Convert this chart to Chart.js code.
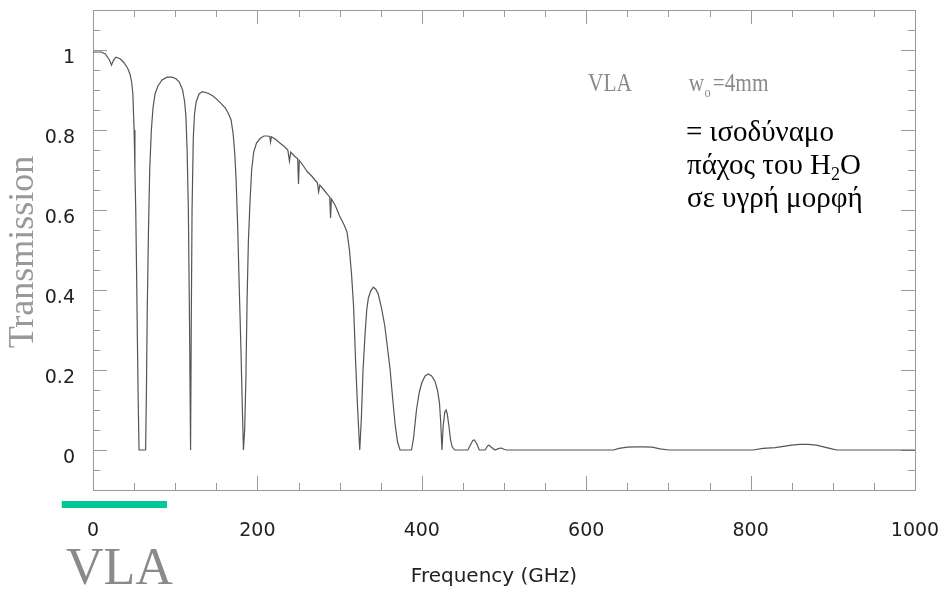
<!DOCTYPE html>
<html>
<head>
<meta charset="utf-8">
<script src="https://cdn.jsdelivr.net/npm/chart.js@4.4.1/dist/chart.umd.min.js"></script>
<style>
  html, body { margin: 0; padding: 0; background: #fff; }
  #wrap { width: 944px; height: 592px; }
</style>
</head>
<body>
<div id="wrap"><canvas id="transChart" width="944" height="592"></canvas></div>
<script>
// Atmospheric transmission at the VLA site, w0 = 4mm
const freqGHz = [
  0, 10, 15, 20, 22.5, 25, 28, 33, 37, 42, 45, 47, 48.5, 50, 51, 52, 53, 54, 55, 56,
  64, 65, 66, 67.5, 69, 71, 73, 75.5, 79, 84, 90, 96, 101, 105, 109, 111.5, 113, 114.5, 116, 117.5,
  118.7, 119.5, 120.5, 122, 123.5, 125.5, 129, 133, 140, 146, 151, 156, 161, 165, 168, 170.5, 172.5, 174, 176, 178,
  180, 181.5, 183, 184.5, 186, 187.5, 189, 191, 193, 195.5, 199, 204, 208, 212, 215, 216, 217, 222, 227, 233,
  237, 239, 240.5, 245, 249, 250, 251, 256, 261, 266, 270, 273, 274.5, 276, 281, 285, 288, 289, 290, 295,
  300, 305, 309, 312, 314.5, 317, 319.5, 322, 324.5, 326.5, 328.5, 331, 333, 335, 338, 341, 344, 347, 351, 355,
  358, 361.5, 364.5, 367.5, 370.5, 373.5, 387.5, 390, 393.5, 397, 400, 404, 408, 412, 416, 419, 421.5, 423, 424.5, 426,
  428, 429.5, 431, 433, 435, 437, 440, 456, 459, 462, 464, 467, 470, 477, 480, 482, 485, 489, 494, 497,
  500, 503, 633, 640, 650, 660, 670, 680, 690, 700, 803, 815, 830, 840, 850, 860, 870, 880, 890, 900,
  905, 1000
];
const transmission = [
  0.995, 0.995, 0.99, 0.975, 0.962, 0.975, 0.982, 0.978, 0.97, 0.955, 0.94, 0.92, 0.89, 0.80, 0.70, 0.60, 0.45, 0.28, 0.12, 0.0,
  0.0, 0.15, 0.35, 0.55, 0.70, 0.80, 0.855, 0.89, 0.91, 0.925, 0.932, 0.932, 0.928, 0.92, 0.90, 0.87, 0.835, 0.75, 0.60, 0.30,
  0.0, 0.30, 0.60, 0.78, 0.84, 0.87, 0.89, 0.896, 0.892, 0.885, 0.876, 0.866, 0.855, 0.84, 0.825, 0.79, 0.74, 0.68, 0.56, 0.40,
  0.25, 0.12, 0.0, 0.05, 0.18, 0.38, 0.52, 0.62, 0.70, 0.745, 0.768, 0.78, 0.785, 0.785, 0.784, 0.77, 0.783, 0.777, 0.768, 0.758,
  0.75, 0.722, 0.745, 0.735, 0.728, 0.665, 0.724, 0.71, 0.695, 0.685, 0.675, 0.668, 0.645, 0.662, 0.65, 0.64, 0.632, 0.58, 0.628, 0.61,
  0.585, 0.565, 0.545, 0.50, 0.44, 0.36, 0.22, 0.10, 0.0, 0.08, 0.20, 0.29, 0.35, 0.38, 0.398, 0.407, 0.402, 0.39, 0.355, 0.31,
  0.26, 0.20, 0.13, 0.065, 0.02, 0.0, 0.0, 0.03, 0.10, 0.145, 0.168, 0.185, 0.19, 0.185, 0.172, 0.15, 0.118, 0.07, 0.0, 0.06,
  0.095, 0.10, 0.09, 0.06, 0.025, 0.008, 0.0, 0.0, 0.012, 0.024, 0.025, 0.015, 0.0, 0.0, 0.01, 0.012, 0.006, 0.0, 0.004, 0.005,
  0.002, 0.0, 0.0, 0.004, 0.007, 0.008, 0.008, 0.007, 0.003, 0.0, 0.0, 0.004, 0.006, 0.009, 0.012, 0.014, 0.014, 0.012, 0.007, 0.002,
  0.0, 0.0
];

const xTicks = [0, 200, 400, 600, 800, 1000];
const yTicks = [0, 0.2, 0.4, 0.6, 0.8, 1];
const vlaBand = [-38, 90]; // green bar under the axis

const frameColor = '#9a9a9a';

// frame with inward ticks on all four sides
const framePlugin = {
  id: 'frame',
  beforeDatasetsDraw(chart) {
    const { ctx, chartArea: a, scales: { x, y } } = chart;
    ctx.save();
    ctx.strokeStyle = frameColor;
    ctx.lineWidth = 1;
    ctx.strokeRect(a.left + 0.5, a.top + 0.5, a.right - a.left, a.bottom - a.top);
    ctx.beginPath();
    for (let f = 0; f <= 1000; f += 50) {
      const px = Math.round(x.getPixelForValue(f)) + 0.5;
      const len = f % 200 === 0 ? 14 : 7;
      ctx.moveTo(px, a.bottom); ctx.lineTo(px, a.bottom - len);
      ctx.moveTo(px, a.top); ctx.lineTo(px, a.top + len);
    }
    for (let i = -2; i <= 22; i++) {
      const v = i * 0.05;
      const py = Math.round(y.getPixelForValue(v)) + 0.5;
      if (py < a.top || py > a.bottom) continue;
      const len = i % 4 === 0 ? 14 : 7;
      ctx.moveTo(a.left, py); ctx.lineTo(a.left + len, py);
      ctx.moveTo(a.right, py); ctx.lineTo(a.right - len, py);
    }
    ctx.stroke();
    ctx.restore();
  }
};

// titles and annotations
const textPlugin = {
  id: 'texts',
  afterDraw(chart) {
    const { ctx, chartArea: a, scales: { x } } = chart;
    ctx.save();

    // y title
    ctx.save();
    ctx.translate(33, 252);
    ctx.rotate(-Math.PI / 2);
    ctx.fillStyle = '#999';
    ctx.font = '36px "Liberation Serif", serif';
    ctx.textAlign = 'center';
    ctx.textBaseline = 'alphabetic';
    ctx.fillText('Transmission', 0, 0);
    ctx.restore();

    // x title
    ctx.fillStyle = '#222';
    ctx.font = '20px "DejaVu Sans", sans-serif';
    ctx.textAlign = 'center';
    ctx.textBaseline = 'alphabetic';
    ctx.fillText('Frequency (GHz)', 494, 582);

    // green VLA band
    const x0 = x.getPixelForValue(vlaBand[0]);
    const x1 = x.getPixelForValue(vlaBand[1]);
    ctx.fillStyle = '#00c896';
    ctx.fillRect(x0, a.bottom + 11, x1 - x0, 7);

    // big VLA label
    ctx.fillStyle = '#8a8a8a';
    ctx.font = '52px "Liberation Serif", serif';
    ctx.textAlign = 'left';
    ctx.fillText('VLA', 66, 584);

    // "VLA  w_o=4mm"
    ctx.save();
    ctx.translate(588, 91);
    ctx.scale(0.82, 1);
    ctx.fillStyle = '#8a8a8a';
    ctx.font = '26px "Liberation Serif", serif';
    ctx.fillText('VLA', 0, 0);
    ctx.fillText('w', 123, 0);
    ctx.font = '15px "Liberation Serif", serif';
    ctx.fillText('o', 142, 6);
    ctx.font = '26px "Liberation Serif", serif';
    ctx.fillText('=4mm', 152, 0);
    ctx.restore();

    // Greek note
    ctx.fillStyle = '#000';
    const big = '29px "Liberation Serif", serif';
    ctx.font = big;
    ctx.fillText('= ισοδύναμο', 686, 141);
    ctx.fillText('πάχος του H', 687, 174);
    const w = ctx.measureText('πάχος του H').width;
    ctx.font = '18px "Liberation Serif", serif';
    ctx.fillText('2', 687 + w, 180);
    const w2 = ctx.measureText('2').width;
    ctx.font = big;
    ctx.fillText('O', 687 + w + w2, 174);
    ctx.fillText('σε υγρή μορφή', 687, 207);

    ctx.restore();
  }
};

const ctx = document.getElementById('transChart').getContext('2d');
const transChart = new Chart(ctx, {
  type: 'line',
  data: {
    datasets: [{
      data: freqGHz.map((f, i) => ({ x: f, y: transmission[i] })),
      borderColor: '#555',
      borderWidth: 1.2,
      pointRadius: 0,
      tension: 0,
      fill: false
    }]
  },
  options: {
    responsive: false,
    animation: false,
    devicePixelRatio: 1,
    layout: { padding: { top: 10, right: 29, left: 0, bottom: 0 } },
    plugins: {
      legend: { display: false },
      tooltip: { enabled: false }
    },
    scales: {
      x: {
        type: 'linear',
        min: 0,
        max: 1000,
        grid: { display: false, drawTicks: false },
        border: { display: false },
        afterBuildTicks: (s) => { s.ticks = xTicks.map(v => ({ value: v })); },
        afterFit: (s) => {
          s.height = 102;
          s.paddingLeft = 0; s.paddingRight = 0;
        },
        ticks: {
          padding: 30,
          maxRotation: 0,
          color: '#222',
          font: { family: '"DejaVu Sans", sans-serif', size: 19 },
          callback: (v) => String(v)
        }
      },
      y: {
        type: 'linear',
        min: -0.1,
        max: 1.1,
        grid: { display: false, drawTicks: false },
        border: { display: false },
        afterBuildTicks: (s) => { s.ticks = yTicks.map(v => ({ value: v })); },
        afterFit: (s) => {
          s.width = 93;
          s.paddingTop = 0; s.paddingBottom = 0;
        },
        ticks: {
          padding: 18,
          labelOffset: 8,
          color: '#222',
          font: { family: '"DejaVu Sans", sans-serif', size: 19 },
          callback: (v) => String(Math.round(v * 10) / 10)
        }
      }
    }
  },
  plugins: [framePlugin, textPlugin]
});
</script>
</body>
</html>
